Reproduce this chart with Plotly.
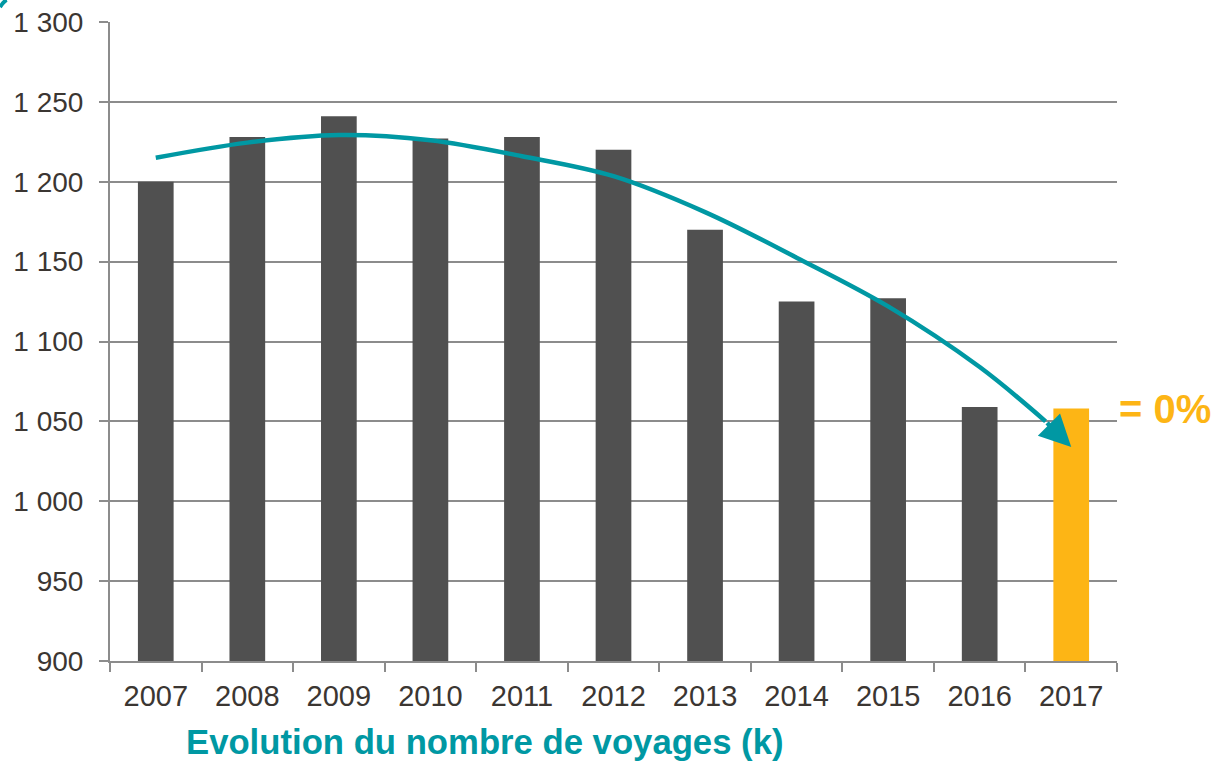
import plotly.graph_objects as go

# nombre de voyages (milliers) par année
years = [2007, 2008, 2009, 2010, 2011, 2012, 2013, 2014, 2015, 2016, 2017]
voyages = [1200, 1228, 1241, 1227, 1228, 1220, 1170, 1125, 1127, 1059, 1058]
bar_colors = ["#505050"] * 10 + ["#FDB515"]

# tendance (flèche); le dernier point est la pointe de la flèche
trend_x = [2007, 2008, 2009, 2010, 2011, 2012, 2013, 2014, 2015, 2016, 2016.72, 2017]
trend_y = [1215, 1224.5, 1229.3, 1226, 1216, 1203.5, 1181, 1152.5, 1122, 1084, 1050, 1034]

y_ticks = [900, 950, 1000, 1050, 1100, 1150, 1200, 1250, 1300]
y_labels = ["900", "950", "1 000", "1 050", "1 100", "1 150", "1 200", "1 250", "1 300"]

title_text = "Evolution du nombre de voyages (k)"
delta_text = "= 0%"

teal = "#0098A3"
grid = "#8C8C8C"
text_col = "#3B3632"

fig = go.Figure()
fig.add_trace(go.Bar(x=years, y=voyages, marker=dict(color=bar_colors, line=dict(width=0)),
                     width=0.39, showlegend=False))
fig.add_trace(go.Scatter(x=trend_x[:-1], y=trend_y[:-1], mode="lines",
                         line=dict(color=teal, width=4.5, shape="spline"),
                         showlegend=False, cliponaxis=False))

# pointe de la flèche
fig.add_annotation(x=trend_x[-1], y=trend_y[-1], ax=trend_x[-2], ay=trend_y[-2],
                   xref="x", yref="y", axref="x", ayref="y", text="",
                   showarrow=True, arrowhead=2, arrowsize=1.4, arrowwidth=4.5,
                   arrowcolor=teal, standoff=0, startstandoff=0)

fig.add_annotation(x=0.372, y=-0.126, xref="paper", yref="paper", text="<b>%s</b>" % title_text,
                   showarrow=False, xanchor="center", yanchor="middle",
                   font=dict(family="Liberation Sans, Arial", size=34.7, color=teal))
fig.add_annotation(x=1.0, y=voyages[-1], xref="paper", yref="y", text="<b>%s</b>" % delta_text,
                   showarrow=False, xanchor="left", yanchor="middle",
                   font=dict(family="Liberation Sans, Arial", size=40, color="#FDB515"))

# petit arc décoratif en haut à gauche
fig.add_shape(type="path", xref="paper", yref="paper",
              path="M -0.1092,1.0235 Q -0.105,1.033 -0.1025,1.0345",
              line=dict(color=teal, width=4))

fig.update_xaxes(range=[2006.5, 2017.5], tickvals=years, ticktext=[str(y) for y in years],
                 ticks="", showgrid=False, showline=True, linecolor=grid, linewidth=2,
                 tickfont=dict(size=29, color=text_col), ticklabelstandoff=8,
                 automargin=False,
                 minor=dict(tick0=2006.5, dtick=1, ticks="outside", ticklen=9,
                            tickwidth=2, tickcolor=grid, showgrid=False))
fig.update_yaxes(range=[900, 1300], tickvals=y_ticks, ticktext=y_labels,
                 showgrid=True, gridcolor=grid, gridwidth=2,
                 ticks="outside", ticklen=9, tickwidth=2, tickcolor=grid,
                 showline=True, linecolor=grid, linewidth=2, zeroline=False,
                 tickfont=dict(size=28, color=text_col), ticklabelstandoff=10,
                 automargin=False)

fig.update_layout(width=1219, height=762, margin=dict(l=110, r=102, t=22, b=101),
                  plot_bgcolor="white", paper_bgcolor="white", bargap=0.6,
                  font=dict(family="Liberation Sans, Arial"))

fig.write_html("out.html", config={"displayModeBar": False},
               post_script="document.body.style.margin='0';")
